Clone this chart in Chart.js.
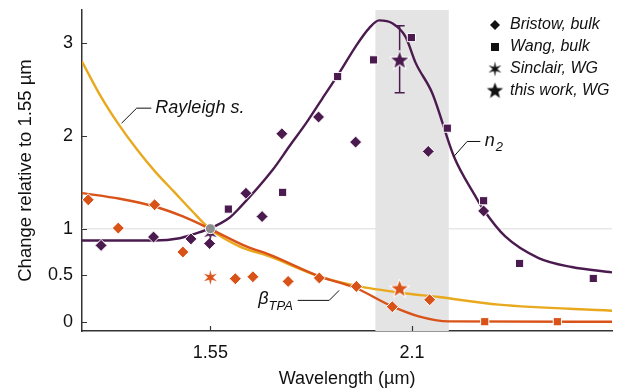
<!DOCTYPE html>
<html>
<head>
<meta charset="utf-8">
<script src="https://cdn.jsdelivr.net/npm/chart.js@4/dist/chart.umd.min.js"></script>
<style>
  html, body { margin: 0; padding: 0; background: #fff; }
  #wrap { width: 622px; height: 390px; }
</style>
</head>
<body>
<div id="wrap"><canvas id="chart" width="622" height="390"></canvas></div>
<script>
// ---- data ----
const xTicks = [1.55, 2.1];
const yTicks = [0, 0.5, 1, 2, 3];
const bandRange = [2.0, 2.2];

// Bristow, bulk (diamonds)
const bristowN2X = [1.252, 1.395, 1.497, 1.548, 1.647, 1.691, 1.745, 1.845, 1.946, 2.144, 2.295];
const bristowN2Y = [0.82, 0.91, 0.89, 0.84, 1.38, 1.13, 2.02, 2.20, 1.93, 1.83, 1.19];
const bristowBetaX = [1.217, 1.299, 1.398, 1.475, 1.618, 1.666, 1.762, 1.847, 1.948, 2.046, 2.148];
const bristowBetaY = [1.31, 1.006, 1.257, 0.749, 0.462, 0.483, 0.433, 0.47, 0.379, 0.161, 0.236];

// Wang, bulk (squares)
const wangN2X = [1.599, 1.747, 1.897, 1.995, 2.098, 2.196, 2.295, 2.393, 2.594];
const wangN2Y = [1.21, 1.39, 2.635, 2.814, 3.054, 2.08, 1.30, 0.626, 0.465];
const wangBetaX = [2.298, 2.496];
const wangBetaY = [0, 0];

// Sinclair, WG and this work, WG
const sinclairX = [1.55];
const sinclairN2Y = [0.95];
const sinclairBetaY = [0.476];
const thisWorkX = [2.066];
const thisWorkN2Y = [2.807];
const thisWorkBetaY = [0.351];
const thisWorkN2Err = [2.46, 3.18];

// fitted curves
const n2CurveX = [1.2, 1.396, 1.466, 1.507, 1.548, 1.602, 1.629, 1.72, 1.765, 1.811, 1.856, 1.901, 1.946, 1.983, 2.01, 2.046, 2.082, 2.11, 2.155, 2.214, 2.273, 2.295, 2.354, 2.445, 2.535, 2.645];
const n2CurveY = [0.873, 0.873, 0.897, 0.945, 1.0, 1.117, 1.221, 1.633, 1.883, 2.134, 2.403, 2.671, 2.957, 3.155, 3.238, 3.208, 3.064, 2.779, 2.456, 1.776, 1.346, 1.203, 0.916, 0.684, 0.588, 0.53];
const betaCurveX = [1.2, 1.303, 1.398, 1.475, 1.548, 1.648, 1.711, 1.847, 1.946, 2.046, 2.118, 2.2, 2.645];
const betaCurveY = [1.382, 1.321, 1.238, 1.131, 1.0, 0.809, 0.72, 0.487, 0.362, 0.164, 0.057, 0.003, 0];
const rayleighX = [1.2, 1.25, 1.3, 1.35, 1.4, 1.45, 1.5, 1.548, 1.629, 1.711, 1.847, 1.946, 2.073, 2.173, 2.336, 2.645];
const rayleighY = [2.796, 2.43, 2.12, 1.85, 1.61, 1.4, 1.19, 1.0, 0.809, 0.701, 0.487, 0.387, 0.308, 0.265, 0.183, 0.118];

const PURPLE = '#4b1a4e';
const ORANGE = '#d95319';
const YELLOW = '#e9a91e';
const FONT = '"Liberation Sans", Arial, Helvetica, sans-serif';

function zip(xs, ys) {
  return xs.map((x, i) => ({ x: x, y: ys[i] }));
}

function makeStar(color, rOut, rIn, n, outline) {
  const c = document.createElement('canvas');
  const s = Math.ceil(rOut * 2 + 4);
  c.width = s; c.height = s;
  const g = c.getContext('2d');
  g.beginPath();
  for (let i = 0; i < 2 * n; i++) {
    const r = i % 2 ? rIn : rOut;
    const a = -Math.PI / 2 + i * Math.PI / n;
    g.lineTo(s / 2 + r * Math.cos(a), s / 2 + r * Math.sin(a));
  }
  g.closePath();
  if (outline) {
    g.strokeStyle = '#fff';
    g.lineWidth = 2;
    g.stroke();
  }
  g.fillStyle = color;
  g.fill();
  return c;
}

const starPurple = makeStar(PURPLE, 9, 3.8, 5, true);
const starOrange = makeStar(ORANGE, 8.5, 3.6, 5, true);
const astPurple = makeStar(PURPLE, 7.5, 2.5, 6, false);
const astOrange = makeStar(ORANGE, 7.5, 2.5, 6, false);
const starBlack = makeStar('#111', 8.5, 3.6, 5, false);
const astBlack = makeStar('#111', 7.5, 2.3, 6, false);

function markers(data, color, style, radius) {
  return {
    data: data,
    pointStyle: style,
    pointRadius: radius,
    pointBackgroundColor: color,
    pointBorderColor: '#fff',
    pointBorderWidth: 1,
    showLine: false
  };
}

function curve(data, color) {
  return {
    data: data,
    borderColor: color,
    borderWidth: 2.4,
    pointRadius: 0,
    showLine: true,
    cubicInterpolationMode: 'monotone',
    fill: false
  };
}

const decor = {
  id: 'decor',
  beforeDatasetsDraw(chart) {
    const { ctx, chartArea: a, scales: { x, y } } = chart;
    ctx.save();
    // light grid line at 1
    const gy = y.getPixelForValue(1);
    ctx.strokeStyle = '#e8e8e8';
    ctx.lineWidth = 1.5;
    ctx.beginPath(); ctx.moveTo(a.left, gy); ctx.lineTo(a.right, gy); ctx.stroke();
    // shaded band
    const x0 = x.getPixelForValue(bandRange[0]);
    const x1 = x.getPixelForValue(bandRange[1]);
    ctx.fillStyle = '#e4e4e4';
    ctx.fillRect(x0, a.top, x1 - x0, a.bottom - a.top);
    // error bar of this work
    const ex = x.getPixelForValue(thisWorkX[0]);
    const ey0 = y.getPixelForValue(thisWorkN2Err[0]);
    const ey1 = y.getPixelForValue(thisWorkN2Err[1]);
    ctx.strokeStyle = PURPLE;
    ctx.lineWidth = 1.5;
    ctx.beginPath();
    ctx.moveTo(ex, ey0); ctx.lineTo(ex, ey1);
    ctx.moveTo(ex - 5, ey0); ctx.lineTo(ex + 5, ey0);
    ctx.moveTo(ex - 5, ey1); ctx.lineTo(ex + 5, ey1);
    ctx.stroke();
    ctx.restore();
  },
  afterDraw(chart) {
    const { ctx, chartArea: a, scales: { x, y } } = chart;
    ctx.save();
    // inward tick marks
    ctx.strokeStyle = '#333';
    ctx.lineWidth = 1.2;
    ctx.beginPath();
    yTicks.forEach(v => {
      const py = Math.round(y.getPixelForValue(v)) + 0.5;
      ctx.moveTo(a.left, py); ctx.lineTo(a.left + 5, py);
    });
    xTicks.forEach(v => {
      const px = Math.round(x.getPixelForValue(v)) + 0.5;
      ctx.moveTo(px, a.bottom); ctx.lineTo(px, a.bottom - 5);
    });
    ctx.stroke();

    // leader lines
    ctx.strokeStyle = '#111';
    ctx.lineWidth = 1;
    const lead = pts => {
      ctx.beginPath();
      pts.forEach((p, i) => {
        const px = x.getPixelForValue(p[0]), py = y.getPixelForValue(p[1]);
        if (i === 0) ctx.moveTo(px, py); else ctx.lineTo(px, py);
      });
      ctx.stroke();
    };
    lead([[1.308, 2.134], [1.349, 2.295], [1.389, 2.295]]);
    lead([[2.214, 1.776], [2.25, 1.937], [2.286, 1.937]]);
    lead([[1.901, 0.336], [1.874, 0.229], [1.788, 0.229]]);

    ctx.fillStyle = '#111';
    ctx.textBaseline = 'middle';
    ctx.textAlign = 'left';
    ctx.font = 'italic 18px ' + FONT;
    ctx.fillText('Rayleigh s.', x.getPixelForValue(1.40), y.getPixelForValue(2.295));

    const nx = x.getPixelForValue(2.298), ny = y.getPixelForValue(1.937);
    ctx.fillText('n', nx, ny);
    const nw = ctx.measureText('n').width;
    ctx.font = 'italic 13px ' + FONT;
    ctx.fillText('2', nx + nw + 1, ny + 6);

    ctx.font = 'italic 18px ' + FONT;
    const bw = ctx.measureText('β').width;
    ctx.font = 'italic 13px ' + FONT;
    const tw = ctx.measureText('TPA').width;
    const bEnd = x.getPixelForValue(1.775);
    const by = y.getPixelForValue(0.229);
    ctx.font = 'italic 18px ' + FONT;
    ctx.fillText('β', bEnd - tw - bw, by - 1);
    ctx.font = 'italic 13px ' + FONT;
    ctx.fillText('TPA', bEnd - tw, by + 6);

    // legend
    const lx = a.right - 117, tx = a.right - 102;
    const rows = [15, 37, 59, 81].map(d => a.top + d);
    const labels = ['Bristow, bulk', 'Wang, bulk', 'Sinclair, WG', 'this work, WG'];
    ctx.font = 'italic 16px ' + FONT;
    labels.forEach((t, i) => ctx.fillText(t, tx, rows[i]));
    ctx.fillStyle = '#111';
    ctx.beginPath();
    ctx.moveTo(lx - 5, rows[0]); ctx.lineTo(lx, rows[0] - 5);
    ctx.lineTo(lx + 5, rows[0]); ctx.lineTo(lx, rows[0] + 5);
    ctx.closePath(); ctx.fill();
    ctx.fillRect(lx - 4, rows[1] - 4, 8, 8);
    ctx.drawImage(astBlack, lx - astBlack.width / 2, rows[2] - astBlack.height / 2);
    ctx.drawImage(starBlack, lx - starBlack.width / 2, rows[3] - starBlack.height / 2);
    ctx.restore();
  }
};

const datasets = [
  markers([{ x: 1.55, y: 1 }], '#8c8c8c', 'circle', 5),
  markers(zip(thisWorkX, thisWorkN2Y), PURPLE, starPurple, 9),
  markers(zip(thisWorkX, thisWorkBetaY), ORANGE, starOrange, 9),
  markers(zip(sinclairX, sinclairN2Y), PURPLE, astPurple, 7),
  markers(zip(sinclairX, sinclairBetaY), ORANGE, astOrange, 7),
  markers(zip(bristowN2X, bristowN2Y), PURPLE, 'rectRot', 6),
  markers(zip(wangN2X, wangN2Y), PURPLE, 'rect', 5.8),
  markers(zip(bristowBetaX, bristowBetaY), ORANGE, 'rectRot', 6),
  markers(zip(wangBetaX, wangBetaY), ORANGE, 'rect', 5.8),
  curve(zip(n2CurveX, n2CurveY), PURPLE),
  curve(zip(betaCurveX, betaCurveY), ORANGE),
  curve(zip(rayleighX, rayleighY), YELLOW)
];

new Chart(document.getElementById('chart').getContext('2d'), {
  type: 'scatter',
  data: { datasets: datasets },
  options: {
    responsive: false,
    animation: false,
    devicePixelRatio: 1,
    layout: { padding: { top: 10, right: 8, left: 0, bottom: 0 } },
    plugins: { legend: { display: false }, tooltip: { enabled: false } },
    scales: {
      x: {
        type: 'linear',
        min: 1.2,
        max: 2.645,
        afterBuildTicks: s => { s.ticks = xTicks.map(v => ({ value: v })); },
        afterFit: s => { s.height = 59; s.paddingLeft = 0; s.paddingRight = 0; },
        grid: { display: false, drawTicks: false },
        border: { color: '#333', width: 1.5 },
        ticks: {
          padding: 11,
          color: '#111',
          font: { family: FONT, size: 18 },
          callback: v => String(v)
        },
        title: {
          display: true,
          text: 'Wavelength (µm)',
          color: '#111',
          font: { family: FONT, size: 18 },
          padding: { top: 2, bottom: 0 }
        }
      },
      y: {
        type: 'linear',
        min: -0.1,
        max: 3.35,
        afterBuildTicks: s => { s.ticks = yTicks.map(v => ({ value: v })); },
        afterFit: s => { s.width = 82; s.paddingTop = 0; s.paddingBottom = 0; },
        grid: { display: false, drawTicks: false },
        border: { color: '#333', width: 1.5 },
        ticks: {
          padding: 9,
          color: '#111',
          font: { family: FONT, size: 18 },
          callback: v => String(v)
        },
        title: {
          display: true,
          text: 'Change relative to 1.55 µm',
          color: '#111',
          font: { family: FONT, size: 18.5 },
          padding: { top: 15, bottom: 0 }
        }
      }
    }
  },
  plugins: [decor]
});
</script>
</body>
</html>
